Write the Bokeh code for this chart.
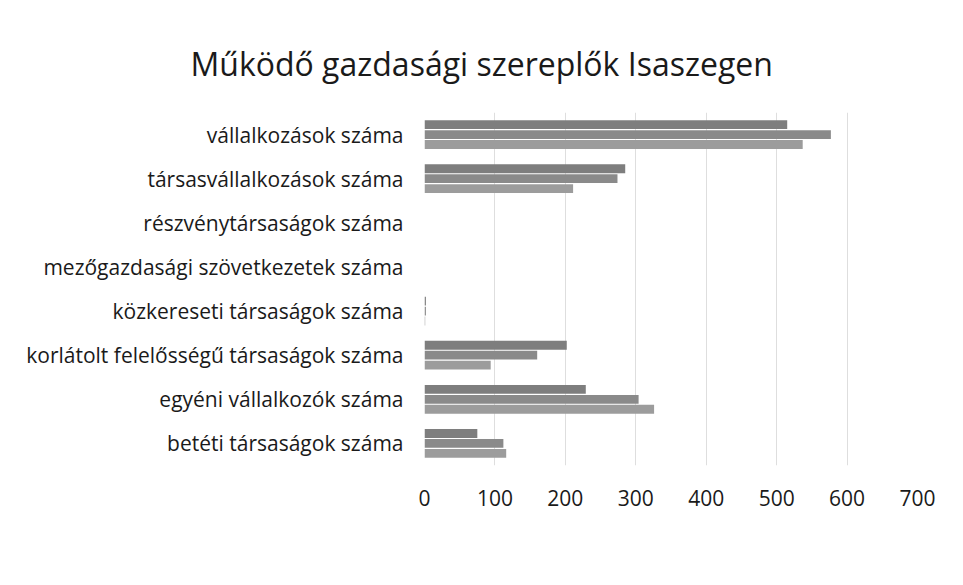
from bokeh.plotting import figure
from bokeh.models import FactorRange, Legend, LegendItem, Range1d, FixedTicker, ColumnDataSource
from bokeh.transform import dodge
from bokeh.embed import file_html
from bokeh.resources import INLINE

categories = [
    "betéti társaságok száma",
    "egyéni vállalkozók száma",
    "korlátolt felelősségű társaságok száma",
    "közkereseti társaságok száma",
    "mezőgazdasági szövetkezetek száma",
    "részvénytársaságok száma",
    "társasvállalkozások száma",
    "vállalkozások száma",
]
years = ["2014", "2010", "2006"]
v2014 = [116, 326, 94, 1, 0, 0, 211, 537]
v2010 = [112, 304, 160, 2, 0, 0, 274, 577]
v2006 = [75, 229, 202, 2, 0, 0, 285, 515]
x_ticks = [0, 100, 200, 300, 400, 500, 600, 700]
title_text = "Működő gazdasági szereplők Isaszegen"

colors = {"2014": "#9c9c9c", "2010": "#8a8a8a", "2006": "#7e7e7e"}
offsets = {"2014": -0.225, "2010": 0.0, "2006": 0.225}

src = ColumnDataSource(data=dict(cat=categories, v2014=v2014, v2010=v2010, v2006=v2006))

FONT = "Open Sans"

p = figure(width=947, height=569, frame_width=493, frame_height=353,
           y_range=FactorRange(*categories), x_range=Range1d(0, 700),
           output_backend="svg", toolbar_location=None,
           min_border_left=424, min_border_right=30, min_border_top=112, min_border_bottom=104)

p.title.text = title_text
p.title.align = "left"
p.title.offset = -234
p.title.standoff = 55
p.title.text_font = FONT
p.title.text_font_size = "32px"
p.title.text_font_style = "normal"
p.title.text_color = "#1a1a1a"

renderers = {}
for y in years:
    renderers[y] = p.hbar(y=dodge("cat", offsets[y], range=p.y_range), right="v" + y, left=0,
                          height=0.2, source=src, fill_color=colors[y], line_color=None)

p.xaxis.ticker = FixedTicker(ticks=x_ticks)
p.xgrid.ticker = FixedTicker(ticks=x_ticks)
p.xgrid.grid_line_color = "#dedede"
p.ygrid.grid_line_color = None
p.outline_line_color = None

for ax in (p.xaxis[0], p.yaxis[0]):
    ax.axis_line_color = None
    ax.major_tick_line_color = None
    ax.minor_tick_line_color = None
    ax.major_tick_out = 0
    ax.major_tick_in = 0
    ax.major_label_text_font = FONT
    ax.major_label_text_color = "#1a1a1a"

p.xaxis.major_label_text_font_size = "21px"
p.xaxis.major_label_standoff = 24
p.yaxis.major_label_text_font_size = "21px"
p.yaxis.major_label_standoff = 21

legend = Legend(items=[LegendItem(label=y, renderers=[renderers[y]]) for y in years],
                orientation="horizontal", location=(-47, 10))
legend.background_fill_alpha = 0
legend.border_line_color = None
legend.label_text_font = FONT
legend.label_text_font_size = "23px"
legend.label_text_color = "#1a1a1a"
legend.glyph_width = 9
legend.glyph_height = 9
legend.label_standoff = 5
legend.spacing = 18
legend.padding = 0
legend.margin = 0
p.add_layout(legend, "below")

open("out.html", "w").write(file_html(p, INLINE))
